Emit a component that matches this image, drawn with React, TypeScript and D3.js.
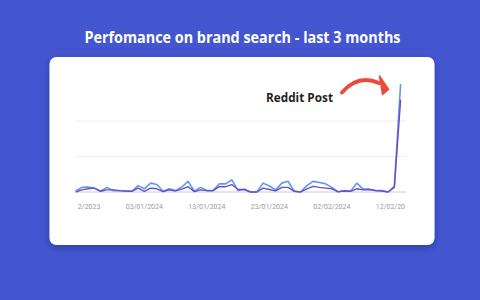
import React from "react";
import * as d3 from "d3";

const startDate = "2023-12-23";
const lightValues = [3,13,14,11,2,13,4,4,2,2,18,9,25,21,2,9,4,14,30,2,13,4,4,23,23,34,4,8,0,0,25,17,6,25,30,2,0,18,30,27,23,13,0,4,2,25,8,8,4,4,0,16,304];
const darkValues = [0,6,9,11,2,6,6,4,3,2,11,2,11,9,1,6,3,8,15,1,6,4,4,15,15,21,7,7,0,0,11,7,3,13,13,2,0,9,16,13,11,9,1,3,2,9,6,7,4,3,0,13,260];
const tickDates = ["2023-12-24","2024-01-03","2024-01-13","2024-01-23","2024-02-02","2024-02-12"];
const gridValues = [100, 200];
const title = "Perfomance on brand search - last 3 months";
const annotation = "Reddit Post";

const parse = d3.utcParse("%Y-%m-%d");
const fmt = d3.utcFormat("%d/%m/%Y");

export default function App() {
  const start = parse(startDate)!;
  const dates = lightValues.map((_, i) => d3.utcDay.offset(start, i));
  const x = d3.scaleUtc().domain([dates[0], dates[dates.length - 1]]).range([75.6, 400.6]);
  const y = d3.scaleLinear().domain([0, 300]).range([192, 85.5]);
  const line = d3.line<number>().x((_, i) => x(dates[i])).y((v) => y(v));
  return (
    <svg width={480} height={300} style={{ position: "absolute", left: 0, top: 0 }}>
      <defs>
        <filter id="sh" x="-10%" y="-10%" width="120%" height="130%">
          <feDropShadow dx="0" dy="3" stdDeviation="3" floodColor="#1a2370" floodOpacity="0.45" />
        </filter>
        <clipPath id="lab"><rect x={77} y={195} width={328} height={20} /></clipPath>
      </defs>
      <rect width={480} height={300} fill="#4356cf" />
      <text x={242.5} y={42.5} textAnchor="middle" fill="#ffffff" fontFamily="Open Sans" fontWeight={700} fontSize={15.5} textLength={316} lengthAdjust="spacingAndGlyphs">{title}</text>
      <rect x={49.5} y={57} width={385} height={188} rx={7} fill="#ffffff" filter="url(#sh)" />
      {gridValues.map((g) => (
        <line key={g} x1={76} x2={406} y1={y(g)} y2={y(g)} stroke="#eeeeee" strokeWidth={1} />
      ))}
      <line x1={76} x2={406} y1={y(0)} y2={y(0)} stroke="#cccccc" strokeWidth={1} />
      <path d={line(lightValues)!} fill="none" stroke="#6095f2" strokeWidth={1.6} strokeLinejoin="round" />
      <path d={line(darkValues)!} fill="none" stroke="#6a4fc4" strokeWidth={1.4} strokeLinejoin="round" />
      <g clipPath="url(#lab)">
        {tickDates.map((t) => {
          const d = parse(t)!;
          return (
            <text key={t} x={x(d)} y={208.5} textAnchor="middle" fill="#9a9a9a" fontFamily="Roboto" fontSize={7.5} textLength={37} lengthAdjust="spacingAndGlyphs">{fmt(d)}</text>
          );
        })}
      </g>
      <text x={266} y={101.7} fill="#1f1f1f" fontFamily="Open Sans" fontWeight={700} fontSize={12} textLength={67} lengthAdjust="spacingAndGlyphs">{annotation}</text>
      <path d="M342,92.5 Q358,74 379,83" fill="none" stroke="#ec4a3c" strokeWidth={4} strokeLinecap="round" />
      <path d="M379.5,76 L388.5,89.5 L382.5,94.5 Z" fill="#ec4a3c" stroke="#ec4a3c" strokeWidth={1.5} strokeLinejoin="round" />
    </svg>
  );
}
